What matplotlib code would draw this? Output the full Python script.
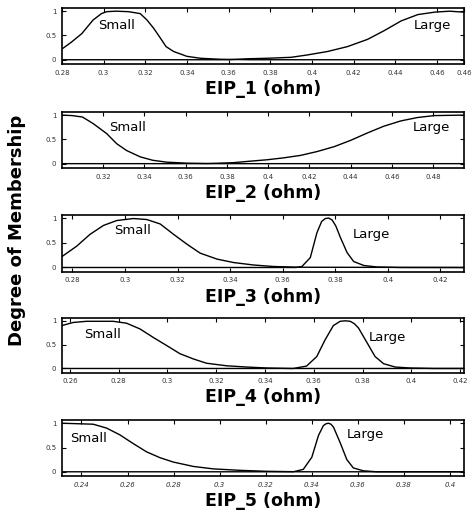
import matplotlib.pyplot as plt

# membership curves, one panel per EIP variable
p1_small_x = [0.28, 0.2845, 0.2896, 0.295, 0.299, 0.3015, 0.306, 0.312, 0.3176, 0.3208, 0.324, 0.3272, 0.330, 0.3336, 0.340, 0.3465, 0.356, 0.37, 0.473]
p1_small_y = [0.22, 0.36, 0.54, 0.82, 0.95, 0.99, 1.0, 0.99, 0.95, 0.82, 0.65, 0.45, 0.27, 0.17, 0.07, 0.03, 0.01, 0.0, 0.0]
p1_large_x = [0.28, 0.36, 0.369, 0.3786, 0.39, 0.398, 0.4075, 0.417, 0.4267, 0.4347, 0.4428, 0.4508, 0.4588, 0.466, 0.473]
p1_large_y = [0.0, 0.0, 0.02, 0.03, 0.05, 0.1, 0.17, 0.27, 0.42, 0.6, 0.8, 0.93, 0.98, 1.0, 0.98]

p2_small_x = [0.30, 0.305, 0.31, 0.315, 0.3217, 0.3266, 0.3314, 0.338, 0.344, 0.351, 0.3606, 0.375, 0.495]
p2_small_y = [1.0, 0.99, 0.96, 0.83, 0.62, 0.41, 0.27, 0.14, 0.07, 0.03, 0.01, 0.0, 0.0]
p2_large_x = [0.30, 0.37, 0.383, 0.391, 0.3995, 0.4076, 0.4157, 0.4238, 0.432, 0.44, 0.448, 0.456, 0.4643, 0.4724, 0.4805, 0.495]
p2_large_y = [0.0, 0.0, 0.02, 0.05, 0.08, 0.12, 0.17, 0.25, 0.35, 0.48, 0.63, 0.77, 0.88, 0.95, 0.99, 1.0]

p3_small_x = [0.276, 0.2816, 0.2867, 0.2918, 0.2969, 0.3032, 0.3083, 0.3134, 0.3185, 0.3236, 0.3286, 0.335, 0.3413, 0.349, 0.3565, 0.3667, 0.429]
p3_small_y = [0.22, 0.43, 0.67, 0.85, 0.95, 0.99, 0.97, 0.88, 0.67, 0.47, 0.29, 0.17, 0.1, 0.05, 0.02, 0.005, 0.0]
p3_large_x = [0.276, 0.365, 0.3673, 0.3705, 0.373, 0.3748, 0.3762, 0.3775, 0.3788, 0.3802, 0.382, 0.3845, 0.387, 0.3909, 0.396, 0.4049, 0.429]
p3_large_y = [0.0, 0.0, 0.02, 0.2, 0.7, 0.93, 0.99, 1.0, 0.96, 0.84, 0.6, 0.3, 0.12, 0.04, 0.01, 0.0, 0.0]

p4_small_x = [0.2567, 0.2613, 0.2668, 0.2777, 0.2832, 0.2887, 0.2942, 0.2997, 0.3051, 0.3106, 0.316, 0.3243, 0.3325, 0.3407, 0.3503, 0.4216]
p4_small_y = [0.9, 0.965, 0.99, 0.99, 0.95, 0.83, 0.65, 0.48, 0.31, 0.2, 0.11, 0.056, 0.03, 0.01, 0.0, 0.0]
p4_large_x = [0.2567, 0.3516, 0.357, 0.3612, 0.3646, 0.368, 0.3708, 0.3728, 0.3749, 0.3766, 0.3783, 0.3817, 0.3851, 0.3886, 0.3934, 0.3995, 0.409, 0.4216]
p4_large_y = [0.0, 0.0, 0.05, 0.25, 0.6, 0.9, 0.99, 1.0, 0.99, 0.94, 0.85, 0.55, 0.25, 0.1, 0.03, 0.01, 0.0, 0.0]

p5_small_x = [0.2315, 0.2451, 0.2509, 0.2567, 0.2625, 0.2683, 0.2741, 0.2799, 0.2886, 0.2972, 0.3088, 0.3204, 0.335, 0.4061]
p5_small_y = [1.0, 0.98, 0.9, 0.76, 0.58, 0.41, 0.29, 0.2, 0.11, 0.06, 0.03, 0.01, 0.0, 0.0]
p5_large_x = [0.2315, 0.332, 0.3363, 0.34, 0.3429, 0.345, 0.3462, 0.3472, 0.3483, 0.3494, 0.3523, 0.3552, 0.358, 0.3624, 0.3682, 0.4061]
p5_large_y = [0.0, 0.0, 0.05, 0.3, 0.75, 0.95, 0.99, 1.0, 0.98, 0.92, 0.6, 0.25, 0.08, 0.02, 0.0, 0.0]

xlabels = ['EIP_1 (ohm)', 'EIP_2 (ohm)', 'EIP_3 (ohm)', 'EIP_4 (ohm)', 'EIP_5 (ohm)']
xlims = [(0.28, 0.473), (0.30, 0.495), (0.276, 0.429), (0.2567, 0.4216), (0.2315, 0.4061)]
xticks = [
    [0.28, 0.30, 0.32, 0.34, 0.36, 0.38, 0.40, 0.42, 0.44, 0.46, 0.473],
    [0.32, 0.34, 0.36, 0.38, 0.40, 0.42, 0.44, 0.46, 0.48],
    [0.28, 0.30, 0.32, 0.34, 0.36, 0.38, 0.40, 0.42],
    [0.26, 0.28, 0.30, 0.32, 0.34, 0.36, 0.38, 0.40, 0.42],
    [0.24, 0.26, 0.28, 0.30, 0.32, 0.34, 0.36, 0.38, 0.40],
]
xticklabels = [
    ['0.28', '0.3', '0.32', '0.34', '0.36', '0.38', '0.4', '0.42', '0.44', '0.46', '0.46'],
    ['0.32', '0.34', '0.36', '0.38', '0.4', '0.42', '0.44', '0.46', '0.48'],
    ['0.28', '0.3', '0.32', '0.34', '0.36', '0.38', '0.4', '0.42'],
    ['0.26', '0.28', '0.3', '0.32', '0.34', '0.36', '0.38', '0.4', '0.42'],
    ['0.24', '0.26', '0.28', '0.3', '0.32', '0.34', '0.36', '0.38', '0.4'],
]
small_pos = [(0.3063, 0.71), (0.332, 0.75), (0.3028, 0.74), (0.2733, 0.72), (0.2432, 0.69)]
large_pos = [(0.458, 0.71), (0.479, 0.75), (0.3937, 0.67), (0.39, 0.65), (0.3634, 0.76)]

curves = [
    (p1_small_x, p1_small_y, p1_large_x, p1_large_y),
    (p2_small_x, p2_small_y, p2_large_x, p2_large_y),
    (p3_small_x, p3_small_y, p3_large_x, p3_large_y),
    (p4_small_x, p4_small_y, p4_large_x, p4_large_y),
    (p5_small_x, p5_small_y, p5_large_x, p5_large_y),
]

# axes boxes in figure fractions [left, bottom, width, height]
boxes = [
    [0.130, 0.876, 0.845, 0.108],
    [0.130, 0.675, 0.845, 0.108],
    [0.130, 0.474, 0.845, 0.110],
    [0.130, 0.279, 0.845, 0.106],
    [0.130, 0.079, 0.845, 0.108],
]

fig = plt.figure(figsize=(4.76, 5.17), dpi=100)

for i in range(5):
    ax = fig.add_axes(boxes[i])
    sx, sy, lx, ly = curves[i]
    ax.plot(sx, sy, color='black', lw=1.0)
    ax.plot(lx, ly, color='black', lw=1.0)
    ax.set_xlim(xlims[i])
    ax.set_ylim(-0.09, 1.06)
    ax.set_xticks(xticks[i])
    ax.set_xticklabels(xticklabels[i], fontsize=5, color='#333333',
                       style='italic' if i == 4 else 'normal')
    ax.set_yticks([0, 0.5, 1])
    ax.set_yticklabels(['0', '0.5', '1'], fontsize=5, color='#333333')
    ax.tick_params(direction='in', top=True, right=True, length=3, width=0.8, pad=4)
    for s in ax.spines.values():
        s.set_linewidth(1.2)
    ax.text(small_pos[i][0], small_pos[i][1], 'Small', fontsize=9.5,
            ha='center', va='center')
    ax.text(large_pos[i][0], large_pos[i][1], 'Large', fontsize=9.5,
            ha='center', va='center')
    ax.set_xlabel(xlabels[i], fontsize=12.5, fontweight='bold', labelpad=3)

fig.text(0.036, 0.555, 'Degree of Membership', rotation=90, fontsize=13,
         fontweight='bold', ha='center', va='center')

fig.savefig('out.png', dpi=100)
